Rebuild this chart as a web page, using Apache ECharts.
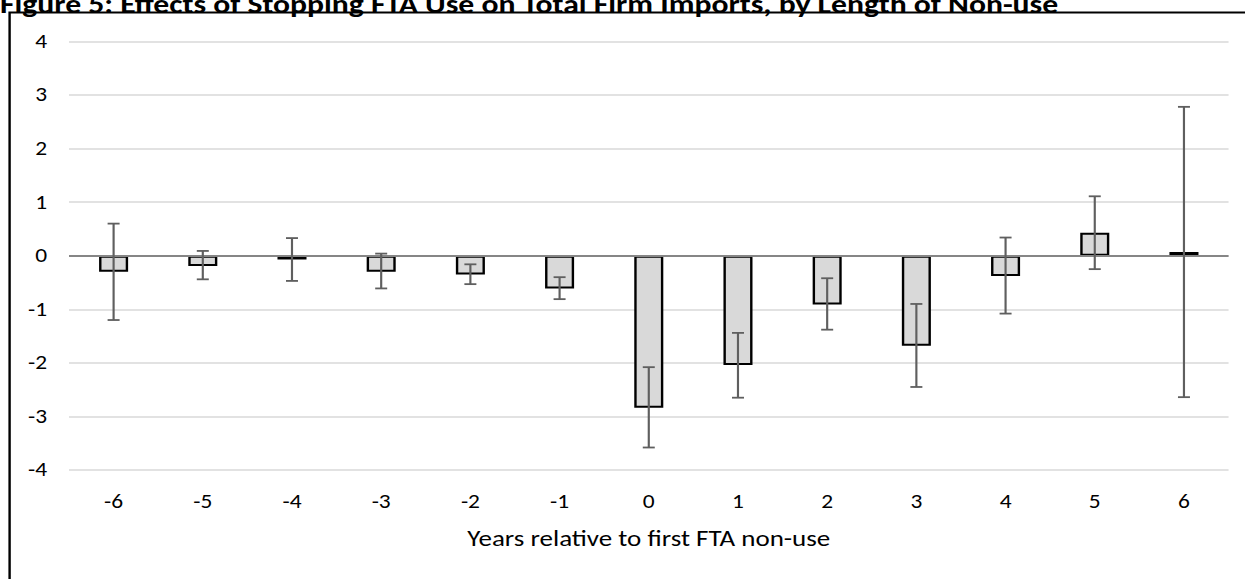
<!DOCTYPE html>
<html>
<head>
<meta charset="utf-8">
<script src="https://cdn.jsdelivr.net/npm/echarts@6/dist/echarts.min.js"></script>
<style>
  html, body { margin: 0; padding: 0; background: #fff; overflow: hidden; }
  #wrap { width: 1245px; height: 579px; overflow: hidden; }
  /* the figure is laid out at a narrower width and widened horizontally */
  #chart { width: 1037.5px; height: 579px; transform: scaleX(1.2); transform-origin: 0 0; }
</style>
</head>
<body>
<div id="wrap"><div id="chart"></div></div>
<script>
// Years relative to the first year of FTA non-use
const years = ['-6', '-5', '-4', '-3', '-2', '-1', '0', '1', '2', '3', '4', '5', '6'];
// Point estimates
const estimates = [-0.30, -0.19, -0.07, -0.30, -0.35, -0.61, -2.84, -2.04, -0.91, -1.68, -0.38, 0.43, 0.07];
// Confidence interval bounds
const ciLower = [-1.20, -0.44, -0.47, -0.61, -0.53, -0.81, -3.58, -2.65, -1.38, -2.45, -1.08, -0.25, -2.64];
const ciUpper = [0.60, 0.09, 0.33, 0.04, -0.16, -0.40, -2.08, -1.44, -0.42, -0.90, 0.34, 1.11, 2.78];
// Value axis ticks
const yTicks = [-4, -3, -2, -1, 0, 1, 2, 3, 4];

const FONT = 'Carlito, Lato, "Open Sans", sans-serif';

const chart = echarts.init(document.getElementById('chart'), null, { renderer: 'svg' });

const errorData = years.map((y, i) => [i, ciLower[i], ciUpper[i]]);

chart.setOption({
  animation: false,
  backgroundColor: '#fff',
  title: {
    text: 'Figure 5: Effects of Stopping FTA Use on Total Firm Imports, by Length of Non-use',
    left: 0,
    top: -9,
    padding: 0,
    textStyle: { fontFamily: FONT, fontWeight: 'bold', fontSize: 26.4, color: '#000' }
  },
  graphic: [{
    type: 'rect',
    shape: { x: 8, y: 12.5, width: 1400, height: 700 },
    style: { fill: 'none', stroke: '#000', lineWidth: 2 },
    silent: true,
    z: 100
  }],
  grid: { left: 57.5, right: 14.2, top: 41.5, bottom: 109, containLabel: false },
  xAxis: {
    type: 'category',
    data: years,
    boundaryGap: true,
    axisLine: { show: false, onZero: false },
    axisTick: { show: false },
    axisLabel: { fontFamily: FONT, fontSize: 19.5, color: '#000', margin: 22 },
    name: 'Years relative to first FTA non-use',
    nameLocation: 'middle',
    nameGap: 57,
    nameTextStyle: { fontFamily: FONT, fontSize: 22.5, color: '#000' }
  },
  yAxis: {
    type: 'value',
    min: yTicks[0],
    max: yTicks[yTicks.length - 1],
    interval: 1,
    axisLine: { show: false },
    axisTick: { show: false },
    axisLabel: { fontFamily: FONT, fontSize: 19.5, color: '#000', margin: 18.3 },
    splitLine: { lineStyle: { color: '#d9d9d9', width: 1.5 } }
  },
  series: [
    {
      type: 'bar',
      data: estimates,
      barWidth: 24.2,
      itemStyle: { color: '#d9d9d9', borderColor: '#000', borderWidth: 2 },
      markLine: {
        silent: true,
        symbol: 'none',
        label: { show: false },
        lineStyle: { color: '#868686', width: 2, type: 'solid' },
        data: [{ yAxis: 0 }]
      },
      z: 2
    },
    {
      type: 'custom',
      data: errorData,
      z: 5,
      renderItem: function (params, api) {
        const idx = api.value(0);
        const lo = api.coord([idx, api.value(1)]);
        const hi = api.coord([idx, api.value(2)]);
        const x = lo[0];
        const cap = 5;
        const style = { stroke: '#5f5f5f', lineWidth: 1.8 };
        return {
          type: 'group',
          children: [
            { type: 'line', shape: { x1: x, y1: hi[1], x2: x, y2: lo[1] }, style: style },
            { type: 'line', shape: { x1: x - cap, y1: hi[1], x2: x + cap, y2: hi[1] }, style: style },
            { type: 'line', shape: { x1: x - cap, y1: lo[1], x2: x + cap, y2: lo[1] }, style: style }
          ]
        };
      }
    }
  ]
});
</script>
</body>
</html>
